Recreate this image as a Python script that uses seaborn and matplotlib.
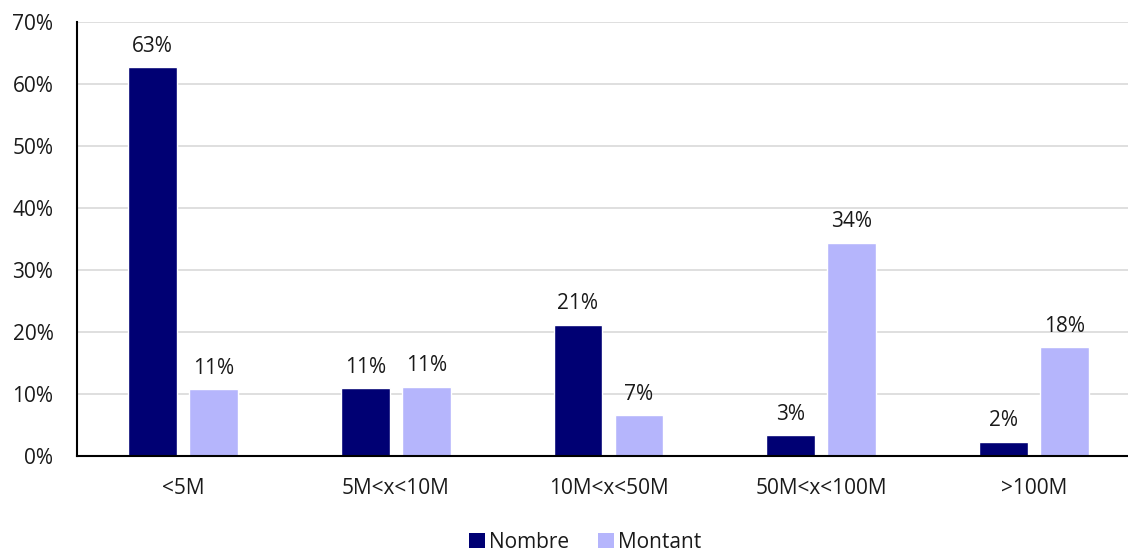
import matplotlib
matplotlib.use("Agg")
import matplotlib.pyplot as plt
from matplotlib.patches import Patch
from matplotlib.ticker import FuncFormatter
import pandas as pd
import seaborn as sns

# Répartition des opérations par tranche de montant
categories = ["<5M", "5M<x<10M", "10M<x<50M", "50M<x<100M", ">100M"]
nombre = [62.7, 10.9, 21.2, 3.4, 2.3]
montant = [10.8, 11.2, 6.6, 34.4, 17.6]
series = ["Nombre", "Montant"]
colors = ["#000073", "#b5b5fc"]
y_ticks = [0, 10, 20, 30, 40, 50, 60, 70]

df = pd.DataFrame({
    "categorie": categories * 2,
    "serie": [series[0]] * len(categories) + [series[1]] * len(categories),
    "valeur": nombre + montant,
})

sns.set_theme(style="white")
plt.rcParams["font.family"] = ["Open Sans", "DejaVu Sans"]
text_color = "#1a1a1a"
fs = 15

W, H = 1128, 552
fig = plt.figure(figsize=(W / 100, H / 100), dpi=100)
ax = fig.add_axes([77 / W, (H - 456) / H, (W - 77) / W, (456 - 22) / H])

sns.barplot(
    data=df, x="categorie", y="valeur", hue="serie",
    order=categories, hue_order=series, palette=colors,
    width=0.574, gap=0.2, saturation=1, legend=False, ax=ax,
)

for container in ax.containers:
    for bar in container:
        v = bar.get_height()
        ax.annotate(f"{v:.0f}%", (bar.get_x() + bar.get_width() / 2, v),
                    xytext=(0, 11), textcoords="offset points",
                    ha="center", va="baseline", fontsize=fs, color=text_color)

ax.set_ylim(0, 70)
ax.set_yticks(y_ticks)
ax.yaxis.set_major_formatter(FuncFormatter(lambda v, _: f"{v:.0f}%"))
ax.set_xlim(-0.5, 4.5 - 12 / 212.6)
ax.grid(axis="y", color="#d9d9d9", linewidth=1.2)
ax.set_axisbelow(True)
ax.set_xlabel("")
ax.set_ylabel("")
for side in ["top", "right"]:
    ax.spines[side].set_visible(False)
for side in ["left", "bottom"]:
    ax.spines[side].set_color("black")
    ax.spines[side].set_linewidth(1.5)
ax.tick_params(axis="both", length=0, labelsize=fs, labelcolor=text_color)
ax.tick_params(axis="y", pad=17)
ax.tick_params(axis="x", pad=16)

handles = [Patch(facecolor=c, edgecolor="none") for c in colors]
fig.legend(handles, series, loc="center", bbox_to_anchor=(585 / W, 1 - 542 / H),
           ncol=2, frameon=False, fontsize=fs, handlelength=0.75, handleheight=0.75,
           handletextpad=0.2, columnspacing=1.4, labelcolor=text_color)

fig.savefig("out.png", dpi=100)
